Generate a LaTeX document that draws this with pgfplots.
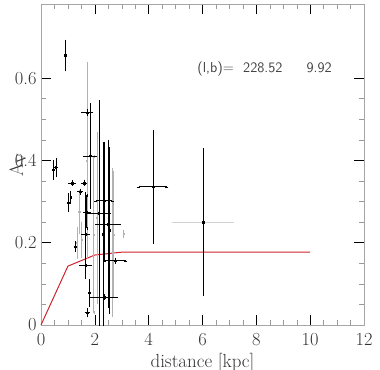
\documentclass[border=0pt]{standalone}
\usepackage{fontspec}
\usepackage{pgfplots}
\pgfplotsset{compat=1.18}
\usetikzlibrary{calc}
\definecolor{redline}{RGB}{205,35,45}
\begin{document}
\begin{tikzpicture}
\begin{axis}[
  scale only axis,
  width=323bp, height=321bp,
  xmin=0, xmax=12, ymin=0, ymax=0.78,
  xtick={0,2,...,12}, ytick={0,0.2,0.4,0.6},
  minor x tick num=3, minor y tick num=3,
  tick align=inside,
  major tick length=10bp, minor tick length=5bp,
  axis line style={gray!70},
  tick style={black, line width=0.5pt},
  minor tick style={gray!80, line width=0.4pt},
  /pgf/number format/assume math mode=true,
  tick label style={font=\fontsize{18.5}{20}\selectfont, color=black!80},
  xticklabel style={yshift=-5bp},
  yticklabel style={xshift=-1bp},
  xlabel={distance [kpc]},
  ylabel={A\textsubscript{V}},
  label style={font=\fontsize{19}{21}\selectfont, color=black!80},
  xlabel style={yshift=0bp},
  ylabel style={at={(axis description cs:-0.035,0.5)}, anchor=south},
  clip=false,
]
% red model line
\addplot[redline, line width=1pt] coordinates {(0,0) (1,0.143) (2,0.170) (3,0.177) (10,0.177)};

% gray faint x-error on far point
\addplot[only marks, mark=*, mark size=0.3pt, gray!35,
  error bars/.cd, x dir=both, x explicit,
  error bar style={gray!35, line width=0.5pt},
  error mark options={gray!35, mark size=1.5pt}]
  table[x=x,y=y,x error=ex] {
x y ex
6.02 0.250 1.08
};

% gray y-only error bars
\addplot[only marks, mark=square*, mark size=0.6pt, gray!60,
  error bars/.cd, y dir=both, y explicit,
  error bar style={gray!60, line width=0.6pt},
  error mark options={gray!60, mark size=1.5pt}]
  table[x=x,y=y,y error=ey] {
x y ey
1.71 0.400 0.235
1.34 0.200 0.035
1.50 0.207 0.040
1.42 0.275 0.050
2.08 0.260 0.205
1.96 0.220 0.190
2.66 0.200 0.177
2.68 0.220 0.150
3.06 0.222 0.006
};

% black y-only error bars
\addplot[only marks, mark=square*, mark size=0.8pt, black,
  error bars/.cd, y dir=both, y explicit,
  error bar style={black, line width=0.6pt},
  error mark options={black, mark size=1.5pt}]
  table[x=x,y=y,y error=ey] {
x y ey
0.89 0.655 0.035
0.45 0.377 0.020
1.00 0.297 0.020
1.10 0.310 0.012
1.26 0.190 0.010
2.30 0.220 0.220
1.79 0.078 0.030
6.02 0.250 0.177
2.53 0.230 0.200
};

% black x and y error bars
\addplot[only marks, mark=square*, mark size=0.8pt, black,
  error bars/.cd, x dir=both, x explicit, y dir=both, y explicit,
  error bar style={black, line width=0.6pt},
  error mark options={black, mark size=1.5pt}]
  table[x=x,y=y,x error=ex,y error=ey] {
x y ex ey
0.55 0.383 0.04 0.020
1.71 0.516 0.17 0.004
1.82 0.411 0.20 0.125
4.16 0.336 0.52 0.135
1.66 0.146 0.19 0.030
1.66 0.220 0.10 0.100
1.70 0.275 0.10 0.040
2.15 0.272 0.40 0.270
2.34 0.302 0.30 0.140
2.50 0.245 0.42 0.200
2.75 0.156 0.40 0.004
2.34 0.068 0.46 0.004
1.72 0.030 0.04 0.008
1.45 0.324 0.05 0.004
1.15 0.345 0.08 0.004
1.60 0.345 0.04 0.004
};

\node[font=\sffamily\fontsize{14.5}{16}\selectfont, text=black!75, anchor=west, inner sep=0pt]
  at (axis cs:5.8,0.622) {(l,b)=\ \ 228.52\hspace{24bp}9.92};
\end{axis}
\pgfresetboundingbox
\path[use as bounding box] ($(current axis.south west)+(-41bp,-45bp)$) rectangle ($(current axis.north east)+(16bp,4bp)$);
\end{tikzpicture}
\end{document}
